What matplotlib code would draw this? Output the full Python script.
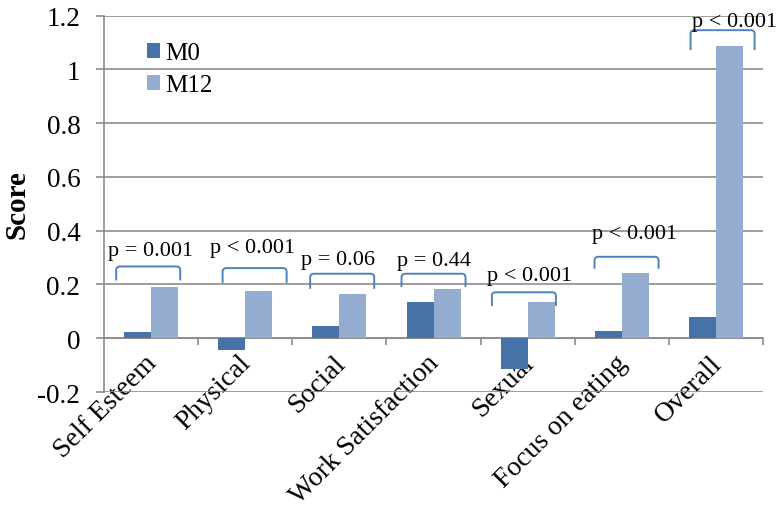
import numpy as np
import matplotlib
matplotlib.use("Agg")
import matplotlib.pyplot as plt
import matplotlib.transforms as mtransforms
from matplotlib.path import Path
from matplotlib.patches import PathPatch

plt.rcParams['font.family'] = ['Liberation Serif', 'DejaVu Serif']

# data
categories = ['Self Esteem', 'Physical', 'Social', 'Work Satisfaction',
              'Sexual', 'Focus on eating', 'Overall']
m0 = [0.022, -0.042, 0.047, 0.134, -0.114, 0.028, 0.078]
m12 = [0.190, 0.177, 0.165, 0.184, 0.134, 0.243, 1.087]
p_labels = ['p = 0.001', 'p < 0.001', 'p = 0.06', 'p = 0.44',
            'p < 0.001', 'p < 0.001', 'p < 0.001']

# annotation placement (brackets and p texts)
br_top = [0.267, 0.261, 0.240, 0.240, 0.171, 0.303, 1.146]
br_bot = [0.215, 0.206, 0.184, 0.191, 0.120, 0.258, 1.072]
br_shift = [-0.03, 0.10, 0.03, 0.0, -0.04, 0.05, 0.07]
txt_y = [0.308, 0.320, 0.277, 0.274, 0.217, 0.373, 1.160]
txt_shift = [0.0, 0.08, -0.01, 0.0, 0.02, 0.14, 0.20]

c_m0 = '#4672A8'
c_m12 = '#94ACCF'
c_br = '#4F81BD'
c_grid = '#8C8C8C'

fig = plt.figure(figsize=(7.8, 5.1), dpi=100)
ax = fig.add_axes([0.1333, 0.2294, 0.8450, 0.7379])

x = np.arange(len(categories))
w = 0.287
ax.bar(x - w / 2, m0, w, color=c_m0, label='M0', zorder=3)
ax.bar(x + w / 2, m12, w, color=c_m12, label='M12', zorder=3)

ax.set_xlim(-0.5, len(categories) - 0.5)
ax.set_ylim(-0.2, 1.2)
ax.set_yticks(np.arange(-0.2, 1.21, 0.2))
ax.set_yticklabels(['-0.2', '0', '0.2', '0.4', '0.6', '0.8', '1', '1.2'])
ax.yaxis.grid(True, color=c_grid, lw=1.2, zorder=0)
ax.set_axisbelow(True)

for s in ['top', 'right']:
    ax.spines[s].set_visible(False)
ax.spines['left'].set_color(c_grid)
ax.spines['left'].set_linewidth(1.2)
ax.spines['bottom'].set_position(('data', 0))
ax.spines['bottom'].set_color(c_grid)
ax.spines['bottom'].set_linewidth(1.2)

ax.tick_params(axis='y', direction='out', length=6, width=1.2, color=c_grid,
               labelsize=19.5, pad=11)
ax.set_xticks(x)
ax.set_xticklabels(categories, rotation=45, ha='right', va='center',
                   rotation_mode='anchor', fontsize=20)
ax.tick_params(axis='x', which='major', length=0, pad=15)
shift = mtransforms.ScaledTranslation(2 / 100, 0, fig.dpi_scale_trans)
for lab in ax.get_xticklabels():
    lab.set_transform(lab.get_transform() + shift)
ax.set_xticks(np.arange(0.5, len(categories) + 0.5, 1.0), minor=True)
ax.tick_params(axis='x', which='minor', direction='out', length=5, width=1.2,
               color=c_grid)

ax.set_ylabel('Score', fontsize=21, fontweight='bold')
ax.yaxis.set_label_coords(-0.112, 0.5)

# brackets with rounded corners
rx, ry = 0.04, 0.014
half = 0.34
for i in range(len(categories)):
    x0 = i + br_shift[i] - half
    x1 = i + br_shift[i] + half
    t, b = br_top[i], br_bot[i]
    verts = [(x0, b), (x0, t - ry), (x0, t), (x0 + rx, t),
             (x1 - rx, t), (x1, t), (x1, t - ry), (x1, b)]
    codes = [Path.MOVETO, Path.LINETO, Path.CURVE3, Path.CURVE3,
             Path.LINETO, Path.CURVE3, Path.CURVE3, Path.LINETO]
    ax.add_patch(PathPatch(Path(verts, codes), fill=False, ec=c_br,
                           lw=1.4, zorder=4))
    ax.text(i + txt_shift[i], txt_y[i], p_labels[i], ha='center',
            va='baseline', fontsize=16, zorder=5, clip_on=False)

ax.legend(loc='upper left', bbox_to_anchor=(0.065, 0.929), frameon=False,
          fontsize=18, handlelength=0.53, handleheight=0.53,
          handletextpad=0.2, labelspacing=0.40, borderaxespad=0,
          borderpad=0)

fig.savefig('out.png', dpi=100)
